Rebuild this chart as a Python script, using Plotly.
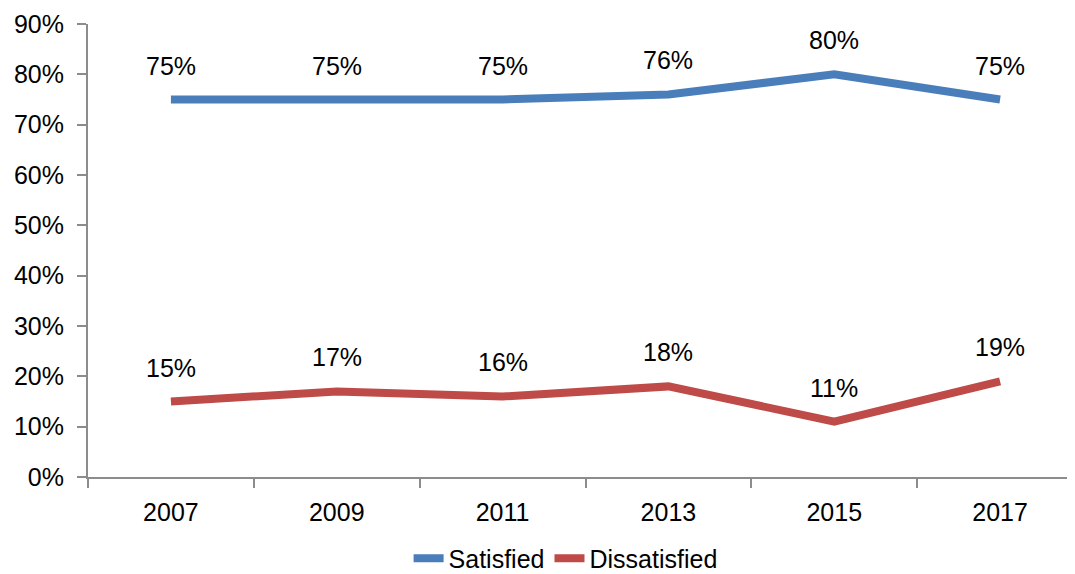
import plotly.graph_objects as go

# dados
years = [2007, 2009, 2011, 2013, 2015, 2017]
satisfied = [0.75, 0.75, 0.75, 0.76, 0.80, 0.75]
dissatisfied = [0.15, 0.17, 0.16, 0.18, 0.11, 0.19]
y_ticks = [0, 0.1, 0.2, 0.3, 0.4, 0.5, 0.6, 0.7, 0.8, 0.9]

FONT = "Liberation Sans, Arial, sans-serif"
SIZE = 25
series = [
    ("Satisfied", satisfied, "#4A7EBB"),
    ("Dissatisfied", dissatisfied, "#BE4B48"),
]

fig = go.Figure()
for name, vals, color in series:
    fig.add_trace(go.Scatter(
        x=years, y=vals, name=name, mode="lines",
        line=dict(color=color, width=8),
    ))
    # rótulos de dados acima dos pontos
    for x, v in zip(years, vals):
        fig.add_annotation(
            x=x, y=v, text=f"{v:.0%}", showarrow=False,
            yshift=34, font=dict(size=SIZE, color="black", family=FONT),
        )

# a página tem 8px de margem no body, por isso as margens estão descontadas
fig.update_layout(
    width=1075, height=574,
    margin=dict(l=80, r=0, t=16, b=100),
    plot_bgcolor="white", paper_bgcolor="white",
    font=dict(family=FONT, size=SIZE, color="black"),
    showlegend=True,
    legend=dict(
        orientation="h", x=0.48, xanchor="center",
        y=-0.18, yanchor="middle",
        font=dict(size=SIZE), tracegroupgap=0,
    ),
)

fig.update_xaxes(
    range=[2006, 2018], tickvals=years, ticktext=[str(y) for y in years],
    ticks="", showgrid=False, zeroline=False, automargin=False,
    showline=True, linecolor="#8c8c8c", linewidth=2,
    ticklabelstandoff=12,
    minor=dict(tickvals=[2006, 2008, 2010, 2012, 2014, 2016, 2018],
               ticks="outside", ticklen=9, tickcolor="#8c8c8c", tickwidth=2,
               showgrid=False),
)
fig.update_yaxes(
    range=[0, 0.9], tickvals=y_ticks, tickformat=".0%",
    ticks="outside", ticklen=9, tickcolor="#8c8c8c", tickwidth=2,
    showgrid=False, zeroline=False, automargin=False,
    showline=True, linecolor="#8c8c8c", linewidth=2,
    ticklabelstandoff=8, ticklabeloverflow="allow",
)

fig.write_html("out.html")
